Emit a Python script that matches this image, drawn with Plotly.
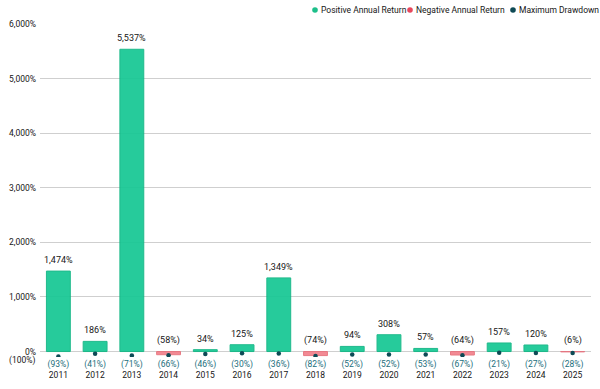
import plotly.graph_objects as go

years = ["2011", "2012", "2013", "2014", "2015", "2016", "2017", "2018",
         "2019", "2020", "2021", "2022", "2023", "2024", "2025"]
annual_return = [1474, 186, 5537, -58, 34, 125, 1349, -74, 94, 308, 57, -64, 157, 120, -6]
max_drawdown = [-93, -41, -71, -66, -46, -30, -36, -82, -52, -52, -53, -67, -21, -27, -28]
y_ticks = [-100, 0, 1000, 2000, 3000, 4000, 5000, 6000]
legend_names = ["Positive Annual Return", "Negative Annual Return", "Maximum Drawdown"]

POS = "#16c894"
NEG = "#f2828c"
DD = "#0e4a55"
DD_TXT = "#1b6e7c"
LEG_COLORS = ["#1dbf8a", "#e8485c", "#0e4a55"]
FONT = "Roboto"
TXT = "#161616"

W, H = 600, 389
ML, MR, MT, MB = 40, 9, 24, 32


def fmt(v):
    s = f"{abs(v):,}%"
    return f"({s})" if v < 0 else s


bar_colors = [POS if v >= 0 else NEG for v in annual_return]
line_colors = ["#10b583" if v >= 0 else "#e7707b" for v in annual_return]

fig = go.Figure()
fig.add_trace(go.Bar(
    x=years, y=annual_return, marker=dict(color=bar_colors, opacity=0.93,
                                          line=dict(color=line_colors, width=1)),
    showlegend=False, hoverinfo="skip", width=0.65,
))
fig.add_trace(go.Scatter(
    x=years, y=max_drawdown, mode="markers",
    marker=dict(color=DD, size=4.5), showlegend=False,
))

for i, v in enumerate(annual_return):
    fig.add_annotation(x=i, y=max(v, 0), text=fmt(v), showarrow=False, xref="x", yref="y",
                       yanchor="bottom", yshift=4, font=dict(size=9, color=TXT, family=FONT))

# compact legend (circle + label) above the plot area, right aligned
pw, ph = W - ML - MR, H - MT - MB
leg_y = 1 + (MT - 10) / ph
leg_px = [315, 410, 513]
for name, col, px in zip(legend_names, LEG_COLORS, leg_px):
    xp = (px - ML) / pw
    fig.add_shape(type="circle", xref="paper", yref="paper", xsizemode="pixel", ysizemode="pixel",
                  xanchor=xp, yanchor=leg_y, x0=-2.8, x1=2.8, y0=-2.8, y1=2.8,
                  fillcolor=col, line=dict(width=0))
    fig.add_annotation(x=xp, y=leg_y, xref="paper", yref="paper", text=name, showarrow=False,
                       xanchor="left", yanchor="middle", xshift=4,
                       font=dict(size=8.5, color=TXT, family=FONT))

# y tick labels; the lowest one is drawn slightly lower so it doesn't collide with "0%"
y_ticktext = [fmt(t) if t != y_ticks[0] else "" for t in y_ticks]
fig.add_annotation(x=0, y=y_ticks[0], xref="paper", yref="y", text=fmt(y_ticks[0]),
                   showarrow=False, xanchor="right", yanchor="middle", xshift=-3, yshift=-3,
                   font=dict(size=8.5, color=TXT, family=FONT))

ticktext = [f"<span style='color:{DD_TXT}'>{fmt(d)}</span><br>{y}" for y, d in zip(years, max_drawdown)]

fig.update_layout(
    width=W, height=H,
    margin=dict(l=ML, r=MR, t=MT, b=MB),
    plot_bgcolor="white", paper_bgcolor="white",
    font=dict(family=FONT, size=8.5, color=TXT),
    showlegend=False,
    xaxis=dict(type="category", tickmode="array", tickvals=years, ticktext=ticktext,
               showgrid=False, automargin=False,
               ticks="", tickfont=dict(size=8.5, color=TXT), range=[-0.5, 14.5]),
    yaxis=dict(range=[-100, 6000], tickvals=y_ticks, ticktext=y_ticktext,
               showgrid=True, gridcolor="#cfcfcf", gridwidth=1, zeroline=False,
               automargin=False,
               ticks="", tickfont=dict(size=8.5, color=TXT), ticklabelstandoff=3),
)

fig.write_html("out.html", config={"displayModeBar": False},
               post_script="document.body.style.margin='0px';")
